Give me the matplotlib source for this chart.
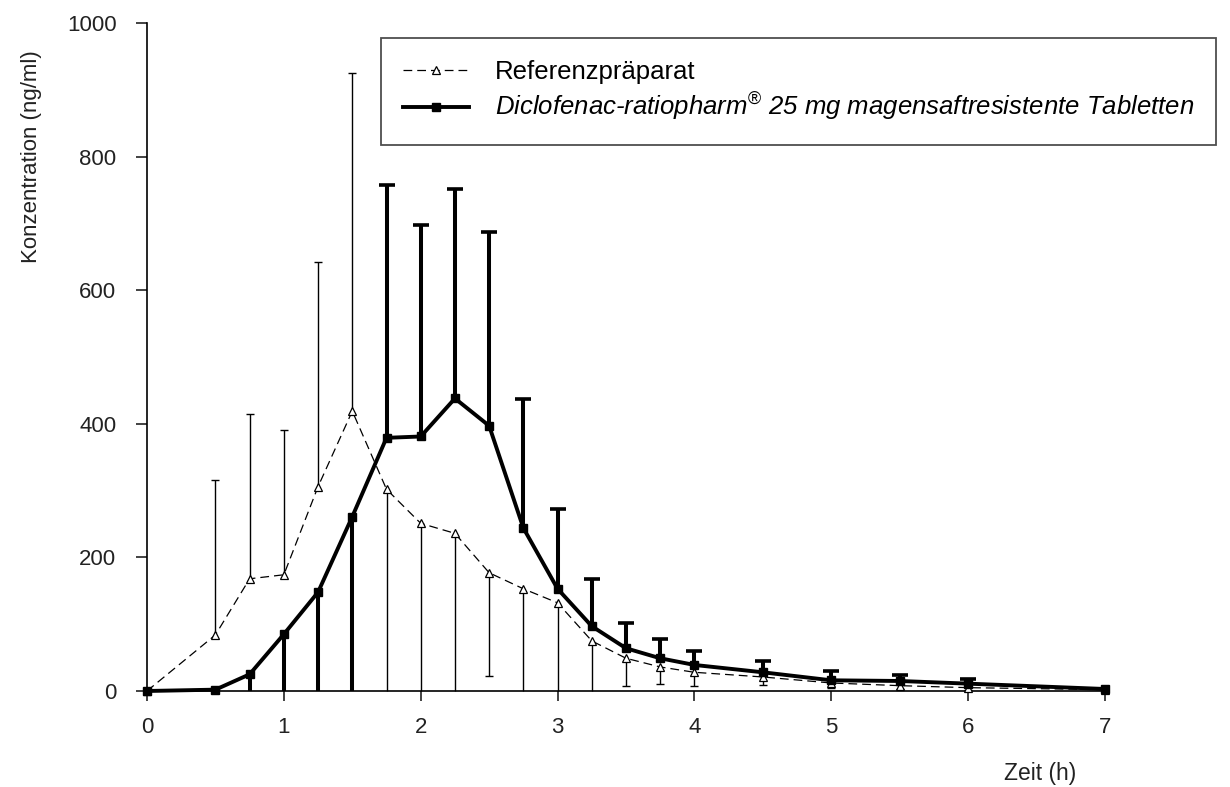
import numpy as np
import matplotlib
matplotlib.use('Agg')
import matplotlib.pyplot as plt

plt.rcParams['font.family'] = ['Liberation Sans', 'DejaVu Sans']
plt.rcParams['mathtext.fontset'] = 'custom'
plt.rcParams['mathtext.rm'] = 'Liberation Sans'
plt.rcParams['mathtext.it'] = 'Liberation Sans:italic'

# Zeitpunkte (h)
zeit = [0, 0.5, 0.75, 1, 1.25, 1.5, 1.75, 2, 2.25, 2.5, 2.75, 3, 3.25, 3.5,
        3.75, 4, 4.5, 5, 5.5, 6, 7]

# Referenzpraeparat: Mittelwerte und Ende der Fehlerbalken (ng/ml)
ref_mean = [0, 84, 168, 174, 306, 419, 302, 251, 236, 177, 153, 132, 75, 49,
            36, 28, 21, 12, 8, 5, 2]
ref_bar_end = [np.nan, 316, 414, 390, 642, 925, 0, 0, 0, 22, 0, 0, 0, 7,
               10, 7, 9, 4, 3, 2, np.nan]

# Diclofenac-ratiopharm 25 mg
test_mean = [0, 2, 25, 85, 148, 261, 379, 381, 438, 397, 244, 153, 97, 64,
             49, 39, 28, 16, 15, 11, 3]
test_bar_end = [np.nan, np.nan, 0, 0, 0, 0, 758, 698, 752, 687, 437, 272,
                168, 102, 78, 60, 45, 30, 24, 18, np.nan]

ref_label = 'Referenzpräparat'
test_label = r'Diclofenac-ratiopharm$^{\circledR}$ 25 mg magensaftresistente Tabletten'

fig = plt.figure(figsize=(12.3, 7.87), dpi=100)
ax = fig.add_axes([147 / 1230, 1 - 691 / 787, 958 / 1230, 668 / 787])

t = np.array(zeit)

# --- Fehlerbalken ---
rm = np.array(ref_mean, dtype=float)
re = np.array(ref_bar_end, dtype=float)
ok = ~np.isnan(re)
ax.vlines(t[ok], rm[ok], re[ok], color='black', lw=1.0, zorder=2, clip_on=False)
cap = ok & (re > 0)
ax.plot(t[cap], re[cap], ls='none', marker='_', ms=6, mew=1.0, color='black',
        zorder=2, clip_on=False)

tm = np.array(test_mean, dtype=float)
te = np.array(test_bar_end, dtype=float)
ok = ~np.isnan(te)
ax.vlines(t[ok], tm[ok], te[ok], color='black', lw=2.9, zorder=2, clip_on=False)
cap = ok & (te > 0)
ax.plot(t[cap], te[cap], ls='none', marker='_', ms=11, mew=2.6, color='black',
        zorder=2, clip_on=False)

# --- Kurven ---
ax.plot(t, rm, color='black', lw=0.9, dashes=(7, 4), marker='^', ms=6,
        mfc='white', mec='black', mew=0.9, label=ref_label, zorder=3,
        clip_on=False)
ax.plot(t, tm, color='black', lw=2.8, marker='s', ms=5.5, mfc='black',
        mec='black', label=test_label, zorder=4, clip_on=False)

ax.set_xlim(0, 7)
ax.set_ylim(0, 1000)
ax.set_xticks(range(0, 8))
ax.set_yticks(range(0, 1001, 200))
for s in ['top', 'right']:
    ax.spines[s].set_visible(False)
for s in ['left', 'bottom']:
    ax.spines[s].set_linewidth(1.2)
ax.tick_params(axis='x', direction='out', length=7, width=1.2, pad=12,
               labelsize=16, colors='#222222')
ax.tick_params(axis='y', direction='out', length=8, width=1.2, pad=14,
               labelsize=16, colors='#222222')

ax.set_ylabel('Konzentration (ng/ml)', fontsize=16, color='#222222')
ax.yaxis.set_label_coords(-0.11, 0.80)
ax.set_xlabel('Zeit (h)', fontsize=16.5, color='#222222')
ax.xaxis.set_label_coords(0.932, -0.106)

leg = ax.legend(loc='upper left', bbox_to_anchor=(0.244, 0.978), fontsize=18.5,
                frameon=True, fancybox=False, handlelength=2.6,
                borderpad=0.85, labelspacing=0.3, borderaxespad=0,
                handletextpad=1.0)
leg.get_frame().set_edgecolor('#222222')
leg.get_frame().set_linewidth(1.3)
leg.get_texts()[1].set_fontstyle('italic')

plt.savefig('out.png', dpi=100)
